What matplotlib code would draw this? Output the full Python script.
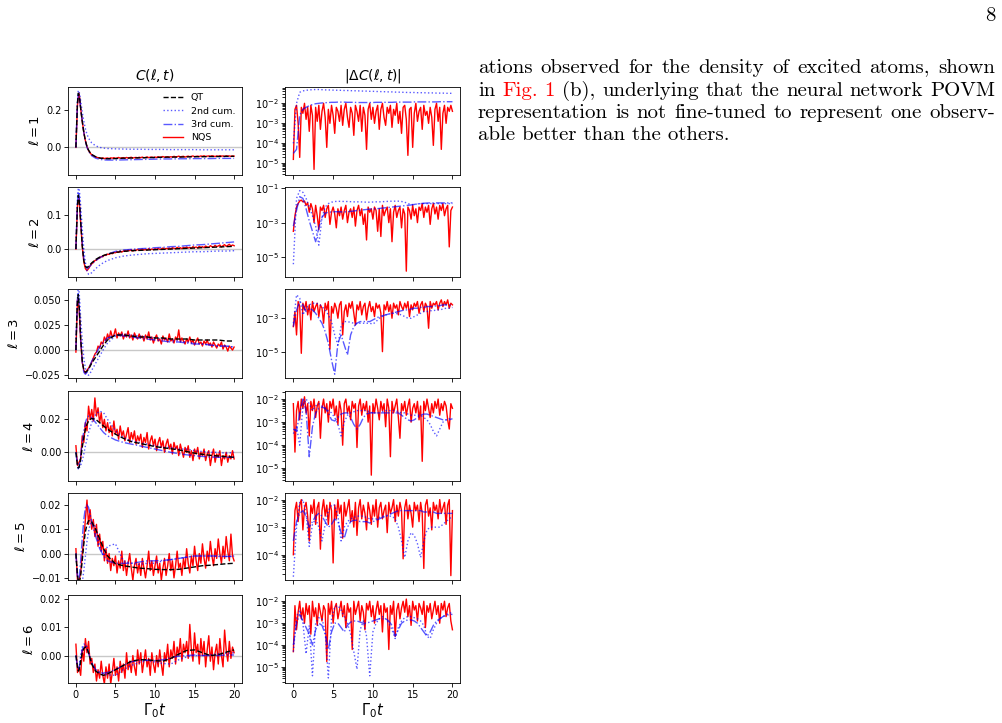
import numpy as np
import matplotlib
matplotlib.use("Agg")
import matplotlib.pyplot as plt
from matplotlib.transforms import IdentityTransform

W, H = 1002, 723

# time grid of the smooth curves (finer at the start, where the peak sits)
t_smooth = [0, 0.1, 0.2, 0.3, 0.4, 0.5, 0.6, 0.8, 1.0, 1.2, 1.4, 1.6, 1.8, 2.0,
            2.5, 3, 3.5, 4, 5, 6, 7, 8, 9, 10, 11, 12, 13, 14, 15, 16, 17, 18, 19, 20]

# ---- l = 1 ----
qt_1 = [0, 0.13, 0.24, 0.29, 0.28, 0.25, 0.21, 0.14, 0.08, 0.035, 0.005, -0.015, -0.028, -0.038,
        -0.05, -0.057, -0.06, -0.061, -0.06, -0.058, -0.057, -0.056, -0.055, -0.054, -0.053,
        -0.052, -0.052, -0.051, -0.05, -0.05, -0.049, -0.049, -0.048, -0.048]
cum2_1 = [0, 0.13, 0.25, 0.305, 0.30, 0.28, 0.25, 0.19, 0.14, 0.10, 0.07, 0.05, 0.035, 0.024,
          0.008, 0.0, -0.004, -0.006, -0.008, -0.009, -0.01, -0.01, -0.011, -0.011, -0.011,
          -0.012, -0.012, -0.012, -0.012, -0.013, -0.013, -0.013, -0.013, -0.013]
cum3_1 = [0, 0.13, 0.24, 0.29, 0.28, 0.25, 0.21, 0.14, 0.08, 0.033, 0.0, -0.02, -0.034, -0.045,
          -0.058, -0.064, -0.067, -0.068, -0.068, -0.067, -0.066, -0.065, -0.064, -0.063, -0.062,
          -0.062, -0.061, -0.061, -0.06, -0.06, -0.06, -0.059, -0.059, -0.059]
nqs_1 = [0.0, 0.23, 0.29, 0.21, 0.14, 0.08, 0.036, 0.004, -0.017, -0.03,
         -0.04, -0.045, -0.05, -0.053, -0.055, -0.057, -0.059, -0.056, -0.06, -0.058,
         -0.057, -0.06, -0.056, -0.058, -0.055, -0.059, -0.057, -0.054, -0.058, -0.056,
         -0.055, -0.058, -0.054, -0.057, -0.055, -0.053, -0.057, -0.055, -0.054, -0.056,
         -0.053, -0.055, -0.052, -0.056, -0.054, -0.051, -0.055, -0.053, -0.052, -0.055,
         -0.052, -0.054, -0.05, -0.053, -0.052, -0.049, -0.053, -0.051, -0.05, -0.053,
         -0.05, -0.052, -0.048, -0.051, -0.05, -0.047, -0.051, -0.049, -0.048, -0.052,
         -0.049, -0.047, -0.05, -0.048, -0.046, -0.05, -0.048, -0.047, -0.049, -0.046,
         -0.048, -0.045, -0.049, -0.047, -0.046, -0.048, -0.045, -0.047, -0.049, -0.046,
         -0.048, -0.045, -0.047, -0.046, -0.049, -0.045, -0.047, -0.046, -0.048, -0.046, -0.047]
# |dC| as log10 values
lerr2_1 = [-4.0, -2.0, -1.45, -1.38, -1.35, -1.33, -1.32, -1.31, -1.31, -1.32, -1.33, -1.33, -1.34,
           -1.34, -1.35, -1.35, -1.36, -1.36, -1.37, -1.37, -1.38, -1.38, -1.39, -1.39, -1.4, -1.4,
           -1.41, -1.41, -1.42, -1.42, -1.43, -1.43, -1.44, -1.44, -1.45, -1.45, -1.46, -1.46, -1.46,
           -1.47, -1.47, -1.47, -1.48, -1.48, -1.48, -1.49, -1.49, -1.49, -1.5, -1.5, -1.5]
lerr3_1 = [-4.5, -4.3, -2.6, -2.3, -2.2, -2.12, -2.06, -2.02, -2.0, -1.98, -1.97, -1.96, -1.95,
           -1.95, -1.94, -1.94, -1.94, -1.95, -1.95, -1.95, -1.96, -1.96, -1.96, -1.96, -1.96, -1.96,
           -1.95, -1.95, -1.95, -1.95, -1.95, -1.95, -1.94, -1.94, -1.94, -1.94, -1.94, -1.94, -1.93,
           -1.93, -1.93, -1.93, -1.93, -1.93, -1.93, -1.93, -1.92, -1.92, -1.92, -1.92, -1.92]
lerrn_1 = [-4.8, -2.3, -2.1, -3.0, -4.7, -2.2, -2.5, -2.0, -2.8, -2.2,
           -3.4, -2.1, -2.6, -5.3, -2.2, -2.9, -2.1, -3.3, -2.4, -2.0,
           -2.7, -4.2, -2.3, -3.0, -2.1, -2.6, -3.5, -2.2, -2.4, -2.9,
           -2.1, -3.1, -2.3, -2.0, -2.7, -3.2, -2.2, -2.5, -3.6, -2.1,
           -2.4, -2.9, -2.1, -3.4, -2.2, -2.6, -4.3, -2.3, -2.0, -2.8,
           -2.2, -3.0, -2.4, -2.1, -3.3, -2.3, -2.0, -2.7, -3.1, -2.2,
           -2.5, -2.1, -3.2, -2.3, -2.6, -2.0, -3.0, -2.4, -3.5, -2.2,
           -2.1, -2.8, -4.6, -2.3, -2.2, -4.2, -2.5, -2.0, -2.9, -2.4,
           -2.2, -3.3, -2.1, -2.6, -2.4, -3.0, -2.2, -2.7, -4.1, -2.3,
           -2.0, -2.9, -2.2, -4.3, -2.5, -2.1, -3.0, -2.2, -2.4, -2.1, -2.4]

# ---- l = 2 ----
qt_2 = [0, 0.07, 0.13, 0.16, 0.15, 0.12, 0.08, 0.01, -0.035, -0.052, -0.055, -0.051, -0.046, -0.041,
        -0.031, -0.024, -0.019, -0.015, -0.01, -0.007, -0.005, -0.004, -0.003, -0.002, -0.001,
        0.0, 0.001, 0.002, 0.003, 0.004, 0.005, 0.006, 0.007, 0.008]
cum2_2 = [0, 0.08, 0.15, 0.18, 0.18, 0.16, 0.13, 0.06, 0.0, -0.04, -0.065, -0.075, -0.074, -0.07,
          -0.058, -0.048, -0.04, -0.034, -0.026, -0.021, -0.018, -0.016, -0.014, -0.013, -0.012,
          -0.011, -0.01, -0.009, -0.008, -0.008, -0.007, -0.006, -0.006, -0.005]
cum3_2 = [0, 0.075, 0.14, 0.17, 0.16, 0.13, 0.09, 0.02, -0.03, -0.05, -0.058, -0.055, -0.05, -0.045,
          -0.034, -0.026, -0.02, -0.015, -0.007, -0.003, -0.001, 0.001, 0.002, 0.004, 0.005,
          0.007, 0.008, 0.01, 0.012, 0.013, 0.015, 0.017, 0.019, 0.021]
nqs_2 = [0.0, 0.13, 0.15, 0.08, 0.01, -0.038, -0.058, -0.064, -0.058, -0.05,
         -0.044, -0.04, -0.034, -0.033, -0.028, -0.027, -0.022, -0.023, -0.018, -0.019,
         -0.015, -0.016, -0.012, -0.014, -0.01, -0.011, -0.008, -0.01, -0.006, -0.009,
         -0.006, -0.004, -0.007, -0.003, -0.005, -0.002, -0.006, -0.003, -0.004, -0.001,
         -0.004, -0.002, 0.0, -0.003, -0.001, -0.003, 0.001, -0.002, 0.0, -0.002,
         0.001, -0.001, 0.002, -0.001, 0.0, 0.003, -0.001, 0.002, 0.001, 0.003,
         0.0, 0.004, 0.002, 0.001, 0.005, 0.002, 0.004, 0.001, 0.005, 0.003,
         0.006, 0.003, 0.005, 0.002, 0.007, 0.004, 0.006, 0.003, 0.008, 0.005,
         0.007, 0.004, 0.009, 0.006, 0.005, 0.01, 0.007, 0.006, 0.011, 0.007,
         0.009, 0.012, 0.006, 0.01, 0.013, 0.008, 0.011, 0.014, 0.009, 0.012, 0.01]
lerr2_2 = [-5.4, -1.6, -1.15, -1.25, -1.6, -2.1, -2.6, -3.2, -4.3, -2.7, -2.1, -1.9, -1.82, -1.78,
           -1.77, -1.77, -1.78, -1.78, -1.79, -1.8, -1.8, -1.8, -1.81, -1.82, -1.82, -1.81, -1.8,
           -1.8, -1.79, -1.78, -1.77, -1.76, -1.76, -1.76, -1.78, -1.82, -1.9, -1.96, -1.95, -1.92,
           -1.9, -1.9, -1.9, -1.9, -1.9, -1.9, -1.9, -1.9, -1.9, -1.9, -1.9]
lerr3_2 = [-3.2, -2.3, -1.5, -1.6, -2.2, -2.9, -3.5, -4.1, -3.3, -2.7, -2.45, -2.4, -2.38, -2.37,
           -2.37, -2.38, -2.38, -2.37, -2.35, -2.33, -2.3, -2.28, -2.26, -2.24, -2.22, -2.2, -2.2,
           -2.18, -2.16, -2.14, -2.12, -2.1, -2.08, -2.06, -2.04, -2.02, -2.0, -1.98, -1.95, -1.92,
           -1.9, -1.88, -1.87, -1.86, -1.86, -1.86, -1.86, -1.86, -1.86, -1.86, -1.86]
lerrn_2 = [-3.5, -2.6, -2.1, -1.9, -1.75, -1.7, -1.8, -1.75, -2.0, -1.85,
           -2.4, -1.9, -2.2, -3.0, -2.0, -2.6, -3.4, -2.1, -2.3, -2.0,
           -2.7, -2.2, -2.0, -3.1, -2.4, -2.1, -2.5, -3.3, -2.2, -2.6,
           -2.1, -2.8, -2.3, -2.0, -3.0, -2.4, -2.2, -2.7, -2.1, -3.2,
           -2.3, -2.0, -2.6, -2.2, -3.1, -2.5, -4.0, -2.1, -2.4, -2.2,
           -2.8, -2.1, -2.3, -3.5, -2.2, -3.8, -2.0, -2.6, -2.3, -2.1,
           -3.0, -2.2, -4.1, -2.4, -2.0, -2.7, -2.3, -2.1, -3.3, -2.2,
           -2.5, -5.8, -2.1, -2.3, -2.8, -2.0, -2.6, -2.2, -3.0, -2.1,
           -2.3, -1.9, -2.7, -2.1, -2.4, -2.0, -3.1, -2.2, -1.9, -2.5,
           -2.1, -2.8, -2.0, -2.3, -1.9, -2.6, -2.2, -2.0, -4.4, -2.3, -2.1]

# ---- l = 3 ----
qt_3 = [0, 0.03, 0.05, 0.055, 0.045, 0.03, 0.012, -0.01, -0.02, -0.022, -0.021, -0.019, -0.016,
        -0.013, -0.007, -0.001, 0.005, 0.01, 0.015, 0.015, 0.014, 0.013, 0.013, 0.012, 0.012,
        0.011, 0.011, 0.011, 0.01, 0.01, 0.01, 0.01, 0.009, 0.009]
cum2_3 = [0, 0.03, 0.053, 0.062, 0.058, 0.047, 0.032, 0.01, -0.008, -0.018, -0.024, -0.025, -0.023,
          -0.02, -0.013, -0.006, 0.001, 0.007, 0.014, 0.016, 0.015, 0.014, 0.013, 0.012, 0.011,
          0.01, 0.009, 0.008, 0.007, 0.006, 0.005, 0.004, 0.004, 0.003]
cum3_3 = [0, 0.03, 0.05, 0.056, 0.046, 0.03, 0.011, -0.012, -0.022, -0.024, -0.022, -0.019, -0.015,
          -0.011, -0.004, 0.003, 0.008, 0.012, 0.015, 0.014, 0.013, 0.012, 0.011, 0.01, 0.009,
          0.008, 0.008, 0.007, 0.006, 0.006, 0.005, 0.004, 0.004, 0.003]
nqs_3 = [-0.002, 0.05, 0.042, 0.01, -0.012, -0.02, -0.023, -0.02, -0.018, -0.015,
         -0.012, -0.008, -0.004, -0.002, 0.004, 0.002, 0.008, 0.006, 0.013, 0.009,
         0.016, 0.011, 0.019, 0.013, 0.015, 0.021, 0.012, 0.017, 0.014, 0.018,
         0.011, 0.016, 0.013, 0.019, 0.012, 0.015, 0.01, 0.017, 0.013, 0.011,
         0.016, 0.012, 0.014, 0.009, 0.015, 0.011, 0.018, 0.01, 0.013, 0.007,
         0.012, 0.015, 0.009, 0.011, 0.006, 0.014, 0.01, 0.012, 0.008, 0.016,
         0.009, 0.011, 0.007, 0.013, 0.01, 0.02, 0.008, 0.012, 0.009, 0.006,
         0.011, 0.008, 0.013, 0.007, 0.01, 0.005, 0.009, 0.012, 0.006, 0.008,
         0.004, 0.009, 0.006, 0.01, 0.005, 0.007, 0.003, 0.008, 0.005, 0.002,
         0.006, 0.004, 0.008, 0.001, 0.005, 0.003, -0.001, 0.004, 0.002, 0.0, 0.003]
lerr2_3 = [-3.3, -1.6, -1.8, -2.8, -2.4, -2.2, -2.1, -2.1, -2.15, -2.3, -2.5, -2.8, -3.2, -4.0, -4.6,
           -3.5, -3.2, -3.2, -3.25, -3.3, -3.3, -3.3, -3.3, -3.3, -3.3, -3.35, -3.2, -3.0, -2.9, -2.8,
           -2.75, -2.7, -2.7, -2.75, -2.8, -2.9, -3.0, -3.0, -2.9, -2.8, -2.7, -2.6, -2.6, -2.55,
           -2.55, -2.5, -2.5, -2.45, -2.4, -2.4, -2.35]
lerr3_3 = [-3.5, -2.5, -2.0, -2.2, -2.6, -2.4, -2.5, -2.7, -3.0, -3.3, -3.8, -4.5, -5.5, -6.35, -4.5,
           -4.0, -4.6, -5.2, -4.0, -3.5, -3.3, -3.2, -3.2, -3.2, -3.2, -3.1, -3.0, -2.9, -2.85, -2.8,
           -2.75, -2.7, -2.65, -2.6, -2.55, -2.5, -2.5, -2.45, -2.4, -2.4, -2.35, -2.35, -2.3, -2.3,
           -2.3, -2.25, -2.25, -2.2, -2.2, -2.2, -2.2]
lerrn_3 = [-3.5, -2.6, -4.0, -2.0, -2.3, -5.1, -2.1, -2.5, -2.0, -2.8,
           -2.2, -3.1, -2.0, -2.6, -2.3, -2.1, -2.9, -2.2, -2.4, -3.3,
           -2.1, -2.5, -2.0, -4.85, -2.3, -2.7, -2.1, -2.4, -3.0, -2.2,
           -2.0, -4.0, -2.6, -2.2, -2.9, -2.1, -2.4, -2.0, -2.7, -3.4,
           -2.2, -2.5, -2.0, -2.8, -2.3, -2.1, -3.1, -2.4, -2.0, -2.6,
           -2.3, -2.9, -2.1, -2.4, -2.2, -2.7, -5.0, -2.2, -2.5, -2.0,
           -2.6, -2.2, -3.0, -2.1, -2.4, -2.2, -2.8, -2.0, -2.3, -2.5,
           -2.1, -2.4, -2.0, -2.9, -2.2, -2.5, -2.1, -2.3, -2.0, -2.7,
           -2.2, -2.0, -2.6, -2.1, -2.3, -3.6, -2.0, -2.4, -2.1, -2.2,
           -2.0, -2.5, -2.1, -1.9, -2.3, -2.0, -2.2, -1.9, -2.4, -2.1, -2.2]

# ---- l = 4 ----
qt_4 = [0.0, -0.004, -0.008, -0.0095, -0.009, -0.007, -0.004, 0.003, 0.009, 0.014, 0.017, 0.019,
        0.02, 0.0205, 0.02, 0.018, 0.016, 0.014, 0.011, 0.0085, 0.0065, 0.0055, 0.0045, 0.0035,
        0.0028, 0.0022, 0.0015, 0.0005, -0.0005, -0.0012, -0.0018, -0.0022, -0.0026, -0.003]
cum2_4 = [0, -0.003, -0.006, -0.008, -0.009, -0.009, -0.008, -0.005, -0.001, 0.004, 0.008, 0.012,
          0.015, 0.018, 0.023, 0.025, 0.024, 0.02, 0.013, 0.009, 0.007, 0.006, 0.005, 0.004, 0.003,
          0.003, 0.002, 0.002, 0.001, 0.0005, 0.0, 0.0, -0.0005, 0.0]
cum3_4 = [0, -0.004, -0.008, -0.01, -0.009, -0.006, -0.002, 0.006, 0.013, 0.018, 0.021, 0.022,
          0.022, 0.021, 0.018, 0.015, 0.012, 0.01, 0.0075, 0.006, 0.005, 0.004, 0.003, 0.002,
          0.001, 0.0, -0.0008, -0.0015, -0.002, -0.0025, -0.0028, -0.003, -0.003, -0.003]
nqs_4 = [0.004, -0.008, -0.006, -0.004, 0.01, 0.006, 0.018, 0.013, 0.028, 0.02,
         0.026, 0.019, 0.033, 0.022, 0.027, 0.018, 0.024, 0.015, 0.02, 0.013,
         0.018, 0.012, 0.016, 0.01, 0.019, 0.011, 0.014, 0.008, 0.016, 0.01,
         0.013, 0.007, 0.011, 0.015, 0.006, 0.012, 0.008, 0.013, 0.005, 0.01,
         0.007, 0.011, 0.003, 0.009, 0.006, 0.012, 0.002, 0.007, 0.01, 0.004,
         0.008, 0.001, 0.006, 0.009, 0.003, 0.007, 0.0, 0.005, 0.008, 0.002,
         0.005, -0.001, 0.006, 0.002, 0.004, -0.002, 0.005, 0.001, -0.003, 0.003,
         0.0, 0.004, -0.003, 0.001, -0.005, 0.002, -0.001, 0.003, -0.004, 0.0,
         -0.002, 0.002, -0.005, -0.001, 0.001, -0.008, -0.002, 0.002, -0.006, -0.001,
         -0.003, 0.001, -0.008, -0.002, -0.004, 0.0, -0.006, -0.002, -0.004, 0.001, -0.004]
lerr2_4 = [-3.5, -3.2, -4.0, -2.3, -2.0, -2.2, -2.5, -2.3, -2.2, -2.3, -2.4, -2.5, -2.6, -2.8, -3.1,
           -3.6, -3.0, -2.7, -2.6, -2.55, -2.5, -2.5, -2.5, -2.5, -2.55, -2.6, -2.6, -2.6, -2.55,
           -2.5, -2.5, -2.5, -2.5, -2.55, -2.6, -2.6, -2.65, -2.7, -2.7, -2.7, -2.7, -2.8, -2.9,
           -3.1, -3.4, -3.6, -3.3, -3.0, -2.9, -2.85, -2.85]
lerr3_4 = [-3.3, -3.4, -2.6, -2.0, -2.5, -4.5, -3.2, -2.6, -2.4, -2.35, -2.4, -2.6, -2.9, -2.95, -2.8,
           -2.65, -2.6, -2.6, -2.8, -3.1, -3.3, -3.1, -2.8, -2.65, -2.6, -2.6, -2.6, -2.6, -2.6, -2.6,
           -2.6, -2.6, -2.6, -2.6, -2.7, -2.8, -2.9, -2.95, -2.9, -2.8, -2.7, -2.65, -2.65, -2.7,
           -2.75, -2.8, -2.85, -2.9, -2.9, -2.9, -2.85]
lerrn_4 = [-2.2, -4.3, -2.5, -2.1, -2.9, -2.0, -2.4, -1.9, -2.6, -2.2,
           -3.6, -2.1, -2.5, -2.0, -2.8, -2.3, -2.1, -3.7, -2.4, -2.0,
           -2.6, -2.2, -3.0, -2.1, -2.4, -2.0, -2.7, -2.3, -3.1, -2.1,
           -2.5, -4.0, -2.2, -2.0, -2.6, -2.3, -2.9, -2.1, -2.4, -2.2,
           -4.1, -2.3, -2.0, -2.7, -2.2, -2.5, -2.1, -3.0, -2.3, -5.3,
           -2.2, -2.6, -2.0, -2.4, -2.9, -2.1, -2.5, -2.2, -3.2, -2.0,
           -2.4, -4.5, -2.1, -2.6, -2.3, -2.0, -2.8, -3.7, -2.2, -2.5,
           -2.1, -2.7, -2.3, -2.0, -3.0, -2.4, -2.2, -2.6, -2.1, -2.9,
           -2.3, -4.7, -2.1, -2.5, -2.0, -2.4, -2.8, -2.2, -2.6, -2.1,
           -2.4, -2.0, -2.7, -2.2, -2.5, -2.1, -2.3, -2.9, -3.3, -2.2, -2.4]

# ---- l = 5 ----
qt_5 = [0, -0.005, -0.009, -0.011, -0.012, -0.011, -0.009, -0.003, 0.004, 0.009, 0.012, 0.0135,
        0.0135, 0.013, 0.01, 0.006, 0.002, -0.001, -0.0042, -0.005, -0.0055, -0.006, -0.0062,
        -0.0065, -0.0066, -0.0066, -0.0065, -0.006, -0.0055, -0.005, -0.0048, -0.0045, -0.0042, -0.004]
cum2_5 = [0, -0.004, -0.008, -0.011, -0.013, -0.014, -0.014, -0.012, -0.007, -0.001, 0.005, 0.009,
          0.012, 0.013, 0.011, 0.003, -0.001, 0.003, 0.004, -0.003, -0.004, -0.0045, -0.004, -0.004,
          -0.003, -0.0025, -0.002, -0.0015, -0.001, -0.001, -0.001, -0.0012, -0.0012, -0.001]
cum3_5 = [0, -0.005, -0.01, -0.011, -0.01, -0.007, -0.003, 0.006, 0.014, 0.019, 0.02, 0.019, 0.016,
          0.013, 0.007, 0.002, -0.001, -0.003, -0.004, -0.004, -0.004, -0.0035, -0.003, -0.003,
          -0.0028, -0.0025, -0.002, -0.0015, -0.001, -0.001, -0.001, -0.001, -0.0012, -0.0012]
nqs_5 = [0.002, -0.011, -0.011, -0.008, 0.0, 0.006, 0.014, 0.022, 0.012, 0.018,
         0.01, 0.014, 0.007, 0.012, 0.003, 0.008, 0.001, 0.005, -0.003, 0.002,
         -0.004, 0.0, -0.007, -0.002, -0.005, -0.001, -0.008, -0.003, -0.006, 0.001,
         -0.007, -0.003, -0.009, -0.004, 0.0, -0.006, -0.011, -0.005, -0.002, -0.008,
         -0.004, -0.009, -0.002, -0.006, -0.01, -0.005, 0.001, -0.007, -0.003, -0.009,
         -0.005, -0.001, -0.008, -0.004, -0.011, -0.006, -0.002, -0.009, -0.005, 0.0,
         -0.007, -0.003, -0.01, -0.005, 0.001, -0.006, -0.004, -0.009, -0.002, -0.006,
         0.002, -0.004, -0.008, -0.001, -0.005, 0.003, -0.003, -0.007, 0.0, -0.004,
         0.004, -0.002, -0.006, 0.001, -0.003, 0.005, -0.001, -0.005, 0.002, -0.002,
         0.006, 0.0, -0.004, 0.003, -0.002, 0.007, 0.001, -0.003, 0.008, -0.001, -0.003]
lerr2_5 = [-4.8, -3.0, -2.1, -2.0, -2.5, -3.7, -2.9, -2.7, -3.0, -3.5, -2.9, -2.4, -2.2, -2.2, -2.6,
           -3.5, -3.0, -2.8, -2.7, -2.65, -2.6, -2.6, -2.6, -2.65, -2.7, -2.7, -2.7, -2.65, -2.6,
           -2.6, -2.6, -2.6, -2.7, -3.0, -3.5, -4.1, -3.5, -3.2, -3.3, -3.6, -4.1, -3.5, -3.1, -3.0,
           -3.0, -3.0, -3.0, -2.9, -2.8, -2.7, -2.6]
lerr3_5 = [-3.5, -2.8, -2.5, -2.4, -2.6, -3.0, -2.8, -2.6, -2.5, -2.6, -2.8, -3.0, -2.9, -2.7, -2.8,
           -3.2, -3.4, -3.0, -2.8, -2.75, -2.75, -2.8, -2.8, -2.8, -2.85, -2.8, -2.75, -2.7, -2.65,
           -2.6, -2.55, -2.5, -2.45, -2.4, -2.4, -2.4, -2.4, -2.4, -2.4, -2.4, -2.4, -2.45, -2.45,
           -2.45, -2.45, -2.5, -2.5, -2.5, -2.5, -2.5, -2.5]
lerrn_5 = [-4.0, -2.4, -2.1, -2.8, -2.2, -2.0, -3.1, -2.3, -2.1, -2.6,
           -3.5, -2.2, -2.5, -2.0, -2.9, -2.3, -2.1, -3.8, -2.4, -2.0,
           -2.6, -2.2, -2.9, -2.1, -2.4, -4.3, -2.2, -2.7, -2.0, -2.5,
           -2.2, -3.4, -2.1, -2.6, -2.3, -2.0, -2.8, -2.4, -3.0, -2.1,
           -3.3, -2.3, -2.0, -2.7, -2.2, -2.5, -3.1, -2.1, -2.4, -2.9,
           -2.2, -2.6, -2.0, -3.0, -2.3, -2.1, -2.7, -2.4, -2.2, -3.2,
           -2.1, -2.5, -2.3, -2.0, -2.8, -2.2, -2.6, -2.1, -2.4, -4.15,
           -2.3, -2.0, -2.7, -2.2, -2.5, -3.0, -2.1, -2.4, -2.2, -2.8,
           -2.1, -2.5, -4.5, -2.2, -2.0, -2.6, -2.3, -3.1, -2.1, -2.4,
           -2.2, -2.7, -2.0, -2.5, -2.3, -2.1, -2.9, -2.2, -2.0, -4.76, -2.4]

# ---- l = 6 ----
qt_6 = [0, -0.002, -0.004, -0.0055, -0.005, -0.004, -0.002, 0.001, 0.0025, 0.003, 0.0025, 0.001,
        -0.001, -0.003, -0.0055, -0.0065, -0.007, -0.0065, -0.005, -0.0035, -0.002, -0.0015,
        -0.0015, -0.0018, -0.002, -0.001, 0.0005, 0.0018, 0.002, 0.001, 0.0, 0.0003, 0.0012, 0.002]
cum2_6 = [0, -0.002, -0.004, -0.005, -0.004, -0.002, 0.0, 0.003, 0.004, 0.004, 0.003, 0.001,
          -0.001, -0.0025, -0.005, -0.006, -0.0065, -0.0068, -0.007, -0.005, -0.0035, -0.0025,
          -0.0018, -0.0023, -0.0028, -0.003, -0.0015, -0.0005, 0.0, 0.0, 0.0003, 0.0006, 0.0008, 0.001]
cum3_6 = [0, -0.002, -0.004, -0.005, -0.0045, -0.003, -0.001, 0.002, 0.0035, 0.0035, 0.0025,
          0.0008, -0.001, -0.0028, -0.005, -0.006, -0.0062, -0.006, -0.005, -0.0035, -0.0022,
          -0.0017, -0.0016, -0.0018, -0.0015, -0.0008, -0.0002, 0.0, 0.0002, 0.0, 0.0, 0.0,
          0.0002, 0.0002]
nqs_6 = [0.004, -0.006, -0.004, -0.007, 0.002, -0.002, 0.006, 0.001, 0.005, -0.003,
         -0.001, -0.006, -0.003, -0.009, -0.005, -0.008, -0.002, -0.007, -0.01, -0.004,
         -0.008, -0.003, -0.01, -0.006, -0.001, -0.007, -0.004, -0.009, -0.002, -0.006,
         -0.003, -0.008, 0.001, -0.005, -0.002, -0.006, 0.0, -0.004, -0.007, 0.002,
         -0.003, 0.001, -0.006, -0.002, 0.002, -0.004, -0.001, -0.007, 0.001, -0.003,
         -0.006, 0.0, -0.004, 0.002, -0.003, -0.007, 0.001, -0.002, 0.004, -0.004,
         0.002, -0.001, 0.005, -0.003, 0.003, 0.0, 0.006, -0.002, 0.004, 0.001,
         0.005, -0.001, 0.011, 0.002, -0.002, 0.008, 0.001, 0.004, -0.003, 0.006,
         0.0, 0.005, -0.004, 0.002, 0.007, -0.002, 0.003, -0.005, 0.001, 0.004,
         -0.003, 0.006, 0.0, -0.004, 0.009, 0.002, -0.002, 0.005, -0.001, 0.003, 0.001]
lerr2_6 = [-4.3, -2.7, -2.4, -3.0, -4.4, -3.1, -5.4, -3.0, -2.75, -2.8, -3.4, -5.5, -2.8, -2.25,
           -2.2, -2.4, -2.7, -3.0, -3.5, -4.3, -5.1, -3.3, -2.9, -3.6, -5.4, -3.4, -3.0, -2.8, -2.7,
           -2.8, -3.0, -3.3, -3.7, -3.2, -2.9, -2.75, -2.7, -2.7, -2.75, -2.8, -2.9, -3.1, -3.6,
           -3.7, -3.3, -3.0, -2.8, -2.7, -2.6, -2.55, -2.5]
lerr3_6 = [-4.0, -3.0, -2.6, -2.9, -3.2, -3.5, -4.0, -3.3, -3.0, -3.1, -3.5, -4.2, -3.4, -3.0, -3.0,
           -3.2, -3.4, -3.1, -2.95, -2.9, -2.9, -2.95, -3.0, -3.0, -2.95, -2.9, -2.85, -2.8, -2.8,
           -2.8, -2.9, -3.1, -3.6, -3.3, -3.0, -2.9, -2.85, -2.85, -2.9, -3.0, -3.2, -3.4, -3.6,
           -3.4, -3.1, -2.9, -2.8, -2.7, -2.65, -2.6, -2.6]
lerrn_6 = [-4.3, -2.2, -3.3, -2.5, -2.0, -2.8, -2.3, -3.0, -2.1, -2.6,
           -2.2, -3.5, -2.0, -2.7, -2.3, -3.1, -2.1, -2.5, -2.9, -2.2,
           -2.4, -4.75, -2.1, -2.6, -2.0, -3.0, -2.3, -2.1, -2.8, -2.4,
           -2.0, -2.7, -2.2, -3.2, -2.1, -2.5, -2.3, -4.2, -2.0, -2.6,
           -2.3, -2.0, -2.9, -2.2, -2.5, -3.3, -2.1, -2.4, -2.0, -2.7,
           -2.2, -3.0, -2.4, -2.0, -2.6, -2.2, -3.4, -2.1, -2.5, -2.3,
           -4.2, -2.2, -2.6, -2.0, -3.6, -2.4, -2.1, -2.8, -2.3, -2.0,
           -2.5, -1.9, -2.7, -2.2, -3.1, -2.0, -2.4, -2.2, -2.9, -2.1,
           -2.3, -2.6, -2.0, -3.2, -2.2, -2.5, -2.1, -2.8, -2.4, -2.0,
           -2.6, -2.2, -3.0, -2.1, -2.4, -2.0, -2.7, -2.3, -2.1, -2.9, -3.3]

row_labels = [r"$\ell = 1$", r"$\ell = 2$", r"$\ell = 3$", r"$\ell = 4$", r"$\ell = 5$", r"$\ell = 6$"]
left_yticks = [[0.0, 0.2], [0.0, 0.1], [-0.025, 0.0, 0.025, 0.05], [0.0, 0.02],
               [-0.01, 0.0, 0.01, 0.02], [0.0, 0.01, 0.02]]
right_ytick_exps = [[-5, -4, -3, -2], [-5, -3, -1], [-5, -3], [-5, -4, -3, -2], [-4, -3, -2],
                    [-5, -4, -3, -2]]
x_ticks = [0, 5, 10, 15, 20]

# page text next to the figure
text_lines = [
    [("ations", "k"), ("observed", "k"), ("for", "k"), ("the", "k"), ("density", "k"), ("of", "k"),
     ("excited", "k"), ("atoms,", "k"), ("shown", "k")],
    [("in", "k"), ("Fig.", "red"), ("1", "red"), ("(b),", "k"), ("underlying", "k"), ("that", "k"),
     ("the", "k"), ("neural", "k"), ("network", "k"), ("POVM", "k")],
    [("representation", "k"), ("is", "k"), ("not", "k"), ("fine-tuned", "k"), ("to", "k"),
     ("represent", "k"), ("one", "k"), ("observ-", "k")],
    [("able better than the others.", "k")],
]

# layout in pixels (axes boxes of the reference)
row_top = [86.7, 187.3, 289.0, 391.0, 493.0, 594.7]
row_bot = [175.0, 276.7, 377.7, 480.7, 580.3, 683.0]
left_ylim = [(-0.148, 0.325), (-0.082, 0.183), (-0.0274, 0.0606), (-0.0172, 0.0372),
             (-0.011, 0.0249), (-0.0097, 0.0215)]
right_ylim_exp = [(-5.58, -1.17), (-6.12, -0.96), (-6.56, -1.25), (-5.54, -1.65), (-4.93, -1.76),
                  (-5.73, -1.7)]

C_QT = "black"
C_CUM = "blue"
C_NQS = "red"
TEXT_SIZE = 15


def grid(values):
    """Evenly spaced times 0..20 for a series sampled on a uniform grid."""
    return np.linspace(0, 20, len(values))


def style_axes(ax, bottom):
    ax.set_xticks(x_ticks)
    ax.tick_params(labelsize=7, length=2.6, width=0.6, pad=2.2, labelbottom=bottom)
    for sp in ax.spines.values():
        sp.set_linewidth(0.6)


def place_line(fig, words, x0, x1, y, size, justify=True):
    """Places one line of page text, stretched between x0 and x1 (pixels)."""
    rend = fig.canvas.get_renderer()
    arts = [fig.text(0, H - y, w, color=c, fontsize=size, family="cmr10",
                     transform=IdentityTransform(), va="baseline") for w, c in words]
    widths = [a.get_window_extent(rend).width for a in arts]
    gap = (x1 - x0 - sum(widths)) / max(len(arts) - 1, 1) if justify else 0
    x = x0
    for a, w in zip(arts, widths):
        a.set_x(x)
        x += w + gap


rows = [
    (qt_1, cum2_1, cum3_1, nqs_1, lerr2_1, lerr3_1, lerrn_1),
    (qt_2, cum2_2, cum3_2, nqs_2, lerr2_2, lerr3_2, lerrn_2),
    (qt_3, cum2_3, cum3_3, nqs_3, lerr2_3, lerr3_3, lerrn_3),
    (qt_4, cum2_4, cum3_4, nqs_4, lerr2_4, lerr3_4, lerrn_4),
    (qt_5, cum2_5, cum3_5, nqs_5, lerr2_5, lerr3_5, lerrn_5),
    (qt_6, cum2_6, cum3_6, nqs_6, lerr2_6, lerr3_6, lerrn_6),
]

fig = plt.figure(figsize=(W / 100, H / 100), dpi=100)

for i, (qt, c2, c3, nqs, e2, e3, en) in enumerate(rows):
    y0 = 1 - row_bot[i] / H
    hh = (row_bot[i] - row_top[i]) / H
    last = i == len(rows) - 1

    # left column: C(l, t)
    ax = fig.add_axes([68 / W, y0, 174 / W, hh])
    ax.axhline(0, color="#c8c8c8", lw=1.0, zorder=1)
    ax.plot(t_smooth, qt, ls="--", color=C_QT, lw=1.0, zorder=4, label="QT")
    ax.plot(t_smooth, c2, ls=":", color=C_CUM, alpha=0.65, lw=1.0, zorder=3, label="2nd cum.")
    ax.plot(t_smooth, c3, ls="-.", color=C_CUM, alpha=0.65, lw=1.0, zorder=3, label="3rd cum.")
    ax.plot(grid(nqs), nqs, color=C_NQS, lw=1.0, zorder=2, label="NQS")
    ax.set_xlim(-1, 21)
    ax.set_ylim(*left_ylim[i])
    ax.set_yticks(left_yticks[i])
    ax.set_ylabel(row_labels[i], fontsize=9.5, labelpad=3)
    style_axes(ax, last)
    if i == 0:
        ax.set_title(r"$C(\ell, t)$", fontsize=10, pad=5)
        ax.legend(loc="upper right", frameon=False, fontsize=6.8, handlelength=2.2,
                  labelspacing=0.45, borderaxespad=0.3)
    if last:
        ax.set_xlabel(r"$\Gamma_0 t$", fontsize=10.5, labelpad=1)

    # right column: |dC(l, t)|
    ax = fig.add_axes([285.4 / W, y0, 175 / W, hh])
    ax.set_yscale("log")
    ax.plot(grid(e2), 10.0 ** np.array(e2), ls=":", color=C_CUM, alpha=0.65, lw=1.0, zorder=3)
    ax.plot(grid(e3), 10.0 ** np.array(e3), ls="-.", color=C_CUM, alpha=0.65, lw=1.0, zorder=3)
    ax.plot(grid(en), 10.0 ** np.array(en), color=C_NQS, lw=1.0, zorder=2)
    ax.set_xlim(-1, 21)
    lo, hi = right_ylim_exp[i]
    ax.set_ylim(10.0 ** lo, 10.0 ** hi)
    ax.set_yticks([10.0 ** k for k in right_ytick_exps[i]])
    style_axes(ax, last)
    if i == 0:
        ax.set_title(r"$|\Delta C(\ell, t)|$", fontsize=10, pad=5)
    if last:
        ax.set_xlabel(r"$\Gamma_0 t$", fontsize=10.5, labelpad=1)

# page number and paragraph text
fig.text(995, H - 21, "8", fontsize=TEXT_SIZE, family="cmr10", ha="right", va="baseline",
         transform=IdentityTransform())
baselines = [73, 95.5, 118, 140.5]
for k, words in enumerate(text_lines):
    place_line(fig, words, 478, 995, baselines[k], TEXT_SIZE, justify=k < len(text_lines) - 1)

fig.savefig("out.png", dpi=100)
